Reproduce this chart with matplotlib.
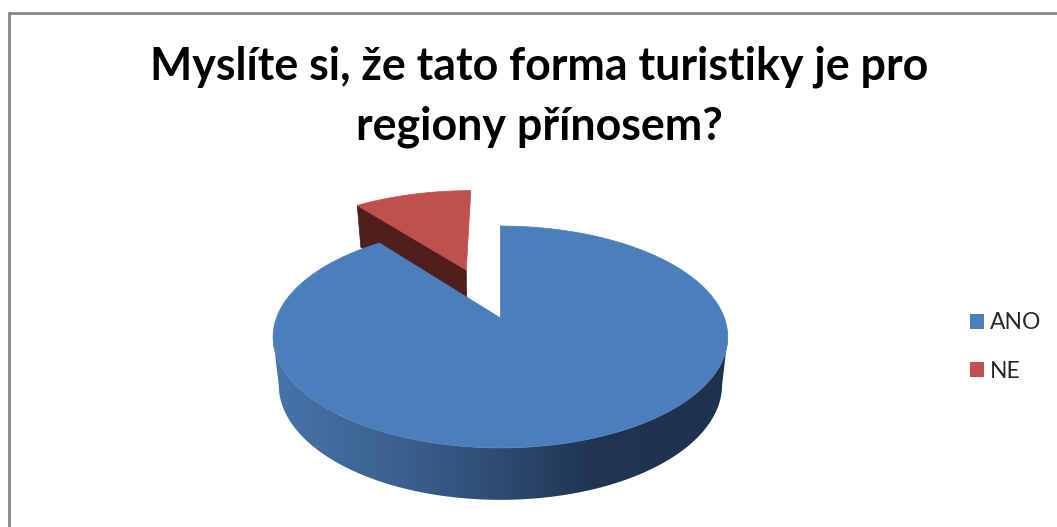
import numpy as np
import matplotlib
matplotlib.use('Agg')
import matplotlib.pyplot as plt
from matplotlib.colors import LinearSegmentedColormap
from matplotlib.patches import Patch, Polygon

# ── Data ──────────────────────────────────────────────────────────────────────
TITLE      = 'Myslíte si, že tato forma turistiky je pro\nregiony přínosem?'
CATEGORIES = ['ANO', 'NE']
VALUES     = [89.5, 10.5]

# ── Style ─────────────────────────────────────────────────────────────────────
W, H = 1057, 527
BLUE, RED = '#4c7ebb', '#bf504d'
RED_SIDE  = '#4f1f1d'
FRAME     = '#868686'
BLUE_SIDE = LinearSegmentedColormap.from_list(
    'blue_side', [(0, '#4674aa'), (0.28, '#3b618e'), (0.5, '#2e4b72'),
                  (0.7, '#1f3552'), (1, '#1c324d')])

# pie projection, in pixels
CX, CY   = 500.4, 318
RX, RY   = 224.0, 107.7
PERSP    = 0.171
DEPTH    = 47.0
DEPTH_P  = 0.095
LOW_X    = 0.975
EXPLODE  = 0.51


def project(u, v, lower=False):
    u, v = np.asarray(u, float), np.asarray(v, float)
    w = 1 + PERSP * v
    x, y = RX * u / w, RY * v / w
    if lower:
        return CX + x * LOW_X, CY - y + DEPTH / (1 + DEPTH_P * v)
    return CX + x, CY - y


def sector(start, stop, off=(0, 0), lower=False, n=200):
    # angles clockwise from 12 o'clock, apex included
    t = np.radians(np.linspace(start, stop, n))
    u = np.r_[off[0], off[0] + np.sin(t)]
    v = np.r_[off[1], off[1] + np.cos(t)]
    return np.column_stack(project(u, v, lower))


fig = plt.figure(figsize=(W / 100, H / 100), dpi=100)
ax = fig.add_axes([0, 0, 1, 1])

# slice angles from the values
sweep = np.array(VALUES) / sum(VALUES) * 360
a0, a1 = 0, sweep[0]
b0, b1 = sweep[0], 360

# exploded NE slice, behind the big one
mid = np.radians((b0 + b1) / 2)
off = (EXPLODE * np.sin(mid), EXPLODE * np.cos(mid))
t = np.radians(b0)
edge_u = off[0] + np.array([0, np.sin(t)])
edge_v = off[1] + np.array([0, np.cos(t)])
top_edge = np.column_stack(project(edge_u, edge_v))
low_edge = np.column_stack(project(edge_u, edge_v, lower=True))
ax.add_patch(Polygon(np.r_[top_edge, low_edge[::-1]], fc=RED_SIDE, ec=RED_SIDE, lw=0.5))
ax.add_patch(Polygon(sector(b0, b1, off), fc=RED, ec=RED, lw=0.5))

# rim of the ANO slice with horizontal shading, between the two side extremes
t = np.radians(np.linspace(100, 260, 300))
xt, yt = project(np.sin(t), np.cos(t))
xl, yl = project(np.sin(t), np.cos(t), lower=True)
rim = Polygon(np.r_[np.column_stack([xt, yt]), np.column_stack([xl, yl])[::-1]],
              fc='none', ec='none', transform=ax.transData)
ax.add_patch(rim)
x_lo, x_hi = xt.min() - 1, xt.max() + 1
img = ax.imshow(np.linspace(0, 1, 256)[None, :], cmap=BLUE_SIDE, aspect='auto',
                extent=[x_lo, x_hi, H, 0], zorder=1)
img.set_clip_path(rim)

# top face of ANO
ax.add_patch(Polygon(sector(a0, a1), fc=BLUE, ec=BLUE, lw=0.5, zorder=2))

ax.set_xlim(0, W)
ax.set_ylim(H, 0)
ax.axis('off')

# chart frame
ax.plot([9.3, 9.3, W + 5], [H + 5, 13.3, 13.3], color=FRAME, lw=2, clip_on=False,
        solid_joinstyle='miter')

ax.text(539, 97, TITLE, ha='center', va='center', family='Lato', weight='bold',
        fontsize=32.2, color='black', linespacing=1.52)

handles = [Patch(fc=BLUE, ec='none'), Patch(fc=RED, ec='none')]
ax.legend(handles, CATEGORIES, loc='center left', bbox_to_anchor=(965, 347),
          bbox_transform=ax.transData, frameon=False,
          prop={'family': 'Lato', 'size': 16.5}, labelcolor='#262626',
          handlelength=0.62, handleheight=0.62, handletextpad=0.28, labelspacing=1.2,
          borderpad=0, borderaxespad=0.2)

fig.savefig('out.png', dpi=100, facecolor='white')
